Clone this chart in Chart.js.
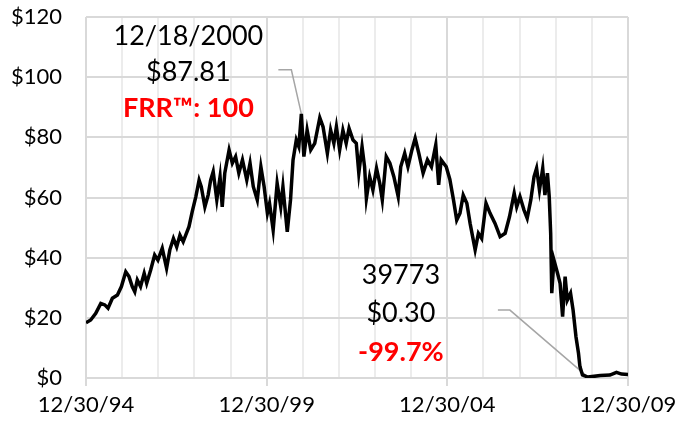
<!DOCTYPE html>
<html>
<head>
<meta charset="utf-8">
<script src="https://cdn.jsdelivr.net/npm/chart.js@4.4.1/dist/chart.umd.min.js"></script>
<style>
  html, body { margin: 0; padding: 0; background: #fff; }
</style>
</head>
<body>
<canvas id="myChart" width="691" height="425"></canvas>
<script>
// decimal years (1995.0 = 12/30/94) and closing prices
const years = [
  1995.00, 1995.13, 1995.27, 1995.41, 1995.52, 1995.61, 1995.73, 1995.87, 1995.98, 1996.10,
  1996.19, 1996.28, 1996.35, 1996.42, 1996.51, 1996.61, 1996.68, 1996.79, 1996.90, 1996.99,
  1997.11, 1997.23, 1997.32, 1997.42, 1997.51, 1997.60, 1997.69, 1997.76, 1997.85, 1997.94,
  1998.04, 1998.13, 1998.19, 1998.29, 1998.38, 1998.45, 1998.52, 1998.62, 1998.71, 1998.77,
  1998.84, 1998.96, 1999.05, 1999.14, 1999.23, 1999.33, 1999.45, 1999.54, 1999.63, 1999.74,
  1999.84, 1999.93, 2000.02, 2000.08, 2000.18, 2000.29, 2000.39, 2000.45, 2000.52, 2000.57,
  2000.66, 2000.73, 2000.82, 2000.89, 2000.96, 2001.03, 2001.12, 2001.22, 2001.33, 2001.47,
  2001.56, 2001.68, 2001.77, 2001.86, 2001.93, 2002.02, 2002.11, 2002.20, 2002.28, 2002.39,
  2002.48, 2002.55, 2002.64, 2002.71, 2002.76, 2002.85, 2002.94, 2003.04, 2003.13, 2003.20,
  2003.31, 2003.41, 2003.52, 2003.64, 2003.71, 2003.82, 2003.91, 2004.02, 2004.11, 2004.21,
  2004.33, 2004.45, 2004.56, 2004.68, 2004.76, 2004.83, 2004.97, 2005.07, 2005.17, 2005.26,
  2005.35, 2005.44, 2005.54, 2005.63, 2005.77, 2005.86, 2005.95, 2006.07, 2006.18, 2006.32,
  2006.46, 2006.60, 2006.72, 2006.85, 2006.92, 2007.01, 2007.12, 2007.21, 2007.31, 2007.40,
  2007.47, 2007.55, 2007.64, 2007.70, 2007.77, 2007.82, 2007.86, 2007.89, 2007.95, 2008.05,
  2008.12, 2008.19, 2008.26, 2008.32, 2008.41, 2008.48, 2008.56, 2008.63, 2008.67, 2008.74,
  2008.89, 2009.23, 2009.50, 2009.68, 2009.82, 2010.00
];
const prices = [
  18.4, 19.3, 21.5, 24.8, 24.3, 23.2, 26.5, 27.6, 30.4, 35.3,
  33.7, 30.4, 28.7, 32.6, 30.4, 34.8, 31.5, 35.9, 40.9, 39.2,
  43.1, 36.5, 42.6, 46.4, 43.6, 47.5, 45.3, 47.5, 50.3, 55.3,
  60.3, 65.8, 63.6, 56.9, 60.8, 65.8, 68.6, 59.2, 66.9, 56.9,
  68.1, 75.8, 71.4, 73.6, 68.1, 72.5, 65.8, 71.4, 63.6, 59.2,
  70.2, 63.6, 54.8, 58.0, 49.2, 64.7, 56.9, 63.6, 54.8, 48.6,
  59.2, 72.5, 79.1, 76.9, 87.81, 73.6, 82.4, 75.8, 78.0, 86.5,
  83.5, 74.7, 82.4, 78.0, 83.5, 75.8, 82.4, 78.0, 83.0, 79.1,
  78.0, 68.1, 76.9, 70.2, 59.7, 66.9, 62.5, 69.7, 64.7, 59.2,
  73.6, 71.4, 66.9, 60.3, 70.2, 74.7, 70.2, 75.8, 79.7, 74.7,
  68.1, 72.5, 70.2, 77.5, 64.2, 72.5, 70.2, 66.0, 59.2, 52.5,
  54.8, 60.8, 58.1, 51.4, 42.6, 48.1, 46.4, 58.1, 54.8, 51.4,
  47.0, 48.1, 53.6, 61.4, 56.9, 60.3, 55.9, 53.1, 59.2, 66.9,
  69.7, 62.5, 69.7, 60.8, 68.1, 60.3, 48.1, 28.2, 39.2, 34.8,
  31.5, 20.4, 33.7, 25.9, 28.2, 22.6, 13.7, 8.2, 3.8, 1.0,
  0.30, 0.8, 1.0, 1.9, 1.3, 1.2
];

const xTickLabels = { 1995: '12/30/94', 2000: '12/30/99', 2005: '12/30/04', 2010: '12/30/09' };

// callouts
const peakNote = { x: 2000.96, y: 87.81, lines: ['12/18/2000', '$87.81', 'FRR™: 100'] };
const lastNote = { x: 2008.89, y: 0.30, lines: ['39773', '$0.30', '-99.7%'] };

const FONT = 'Lato, "Open Sans", sans-serif';

const calloutPlugin = {
  id: 'callouts',
  beforeDatasetsDraw(chart) {
    const { ctx, scales } = chart;
    const p1x = scales.x.getPixelForValue(peakNote.x), p1y = scales.y.getPixelForValue(peakNote.y);
    const p2x = scales.x.getPixelForValue(lastNote.x), p2y = scales.y.getPixelForValue(lastNote.y);
    ctx.save();
    ctx.strokeStyle = '#a6a6a6';
    ctx.lineWidth = 1.5;
    ctx.beginPath();
    ctx.moveTo(p1x - 23, p1y - 44);
    ctx.lineTo(p1x - 10, p1y - 44);
    ctx.lineTo(p1x, p1y);
    ctx.moveTo(p2x - 90, p2y - 67);
    ctx.lineTo(p2x - 78, p2y - 67);
    ctx.lineTo(p2x, p2y);
    ctx.stroke();
    ctx.restore();
  },
  afterDatasetsDraw(chart) {
    const { ctx, scales } = chart;
    const drawNote = (note, dx, ys) => {
      const px = scales.x.getPixelForValue(note.x), py = scales.y.getPixelForValue(note.y);
      ctx.textAlign = 'center';
      ctx.textBaseline = 'middle';
      note.lines.forEach((t, i) => {
        if (i === 2) {
          ctx.fillStyle = '#ff0000';
          ctx.font = 'bold 27px ' + FONT;
        } else {
          ctx.fillStyle = '#000';
          ctx.font = '27px ' + FONT;
        }
        ctx.fillText(t, px + dx, py + ys[i]);
      });
    };
    ctx.save();
    drawNote(peakNote, -113, [-78, -42, -6]);
    drawNote(lastNote, -187, [-102, -64, -25]);
    ctx.restore();
  }
};

const ctx = document.getElementById('myChart').getContext('2d');

const chart = new Chart(ctx, {
  type: 'line',
  data: {
    datasets: [{
      data: years.map((x, i) => ({ x: x, y: prices[i] })),
      borderColor: '#000',
      borderWidth: 3.5,
      pointRadius: 0,
      tension: 0,
      fill: false
    }]
  },
  options: {
    responsive: false,
    animation: false,
    devicePixelRatio: 1,
    layout: { padding: { top: 17, right: 63, left: 0, bottom: 0 } },
    plugins: { legend: { display: false }, tooltip: { enabled: false } },
    scales: {
      x: {
        type: 'linear',
        min: 1995,
        max: 2010,
        afterFit: s => { s.height = 47; s.paddingLeft = 0; s.paddingRight = 0; },
        ticks: {
          stepSize: 1,
          autoSkip: false,
          maxRotation: 0,
          padding: 6,
          color: '#000',
          font: { family: FONT, size: 22 },
          callback: v => xTickLabels[v] || ''
        },
        grid: {
          color: c => (c.tick && c.tick.value % 5 === 0) ? '#d9d9d9' : '#ececec',
          tickColor: c => (c.tick && c.tick.value % 5 === 0) ? '#d9d9d9' : 'rgba(0,0,0,0)',
          tickLength: 8,
          lineWidth: 2
        },
        border: { display: false }
      },
      y: {
        min: 0,
        max: 120,
        afterFit: s => { s.width = 86; s.paddingTop = 0; s.paddingBottom = 0; },
        ticks: {
          stepSize: 20,
          padding: 24,
          color: '#000',
          font: { family: FONT, size: 22 },
          callback: v => '$' + v
        },
        grid: { color: '#d9d9d9', lineWidth: 2, drawTicks: false },
        border: { display: false }
      }
    }
  },
  plugins: [calloutPlugin]
});
</script>
</body>
</html>
